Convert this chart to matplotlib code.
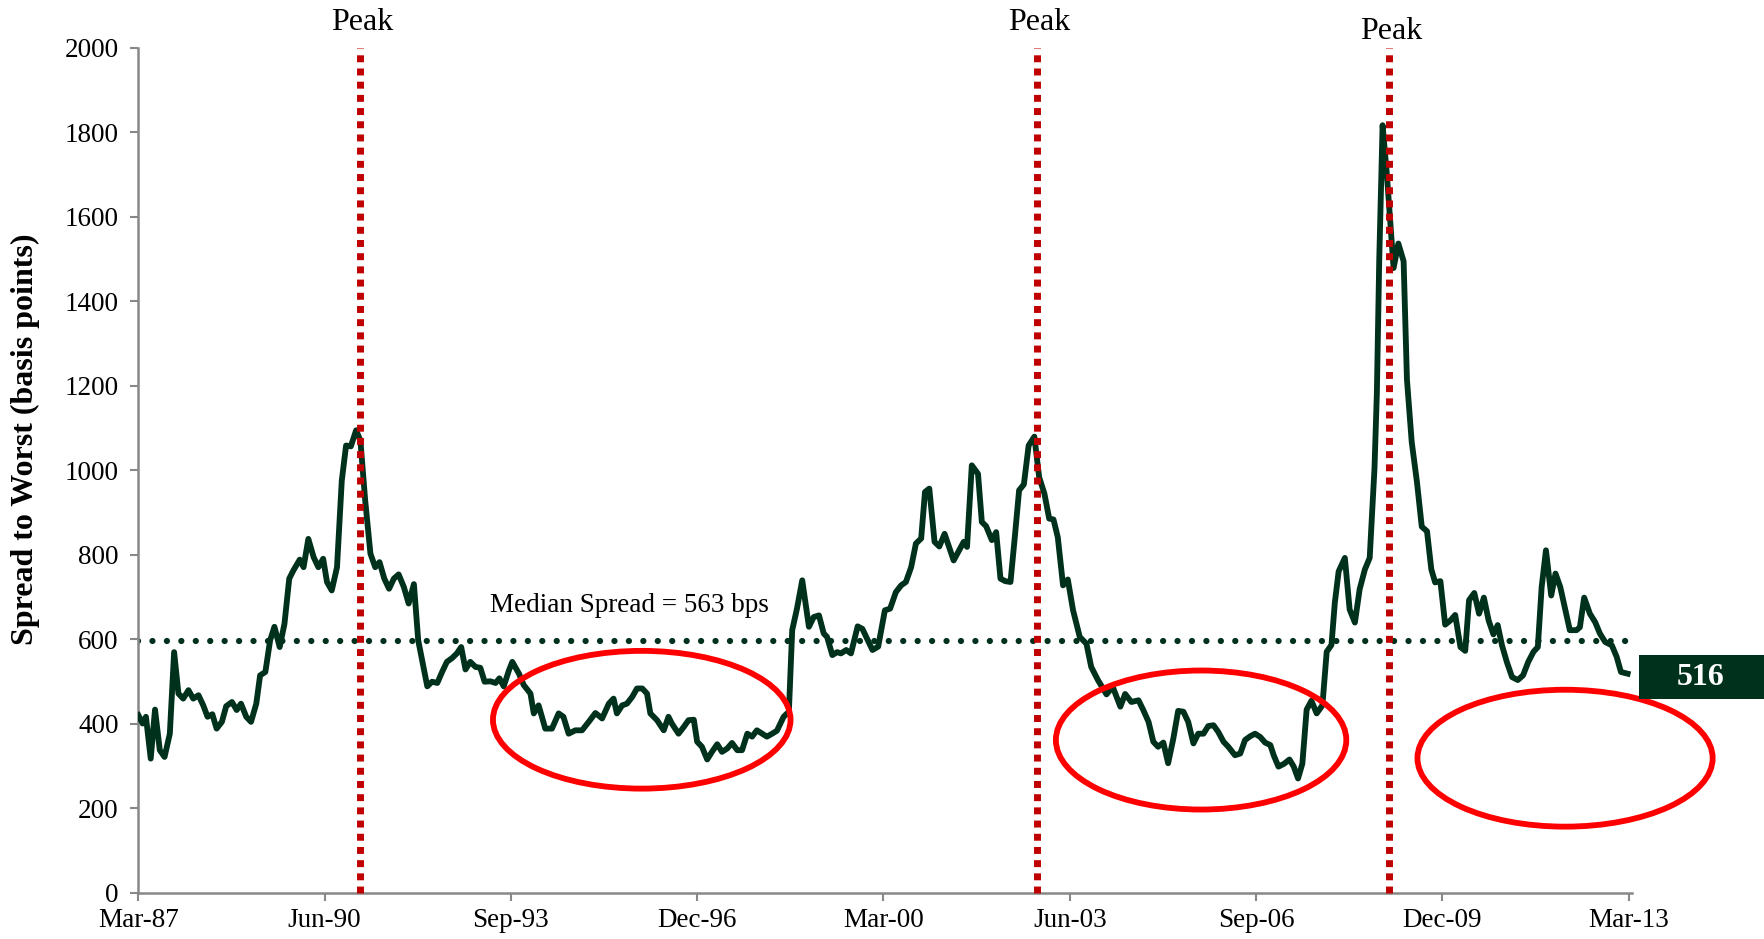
import matplotlib
matplotlib.use("Agg")
from matplotlib import pyplot as plt
from matplotlib.patches import Ellipse, Rectangle

# months since Mar-87 and spread to worst (bps)
months = [0, 0.9, 1.6, 2.6, 3.5, 4.5, 5.5, 6.6, 7.5, 8.4, 9.4, 10.5, 11.5, 12.6, 13.6, 14.5,
          15.5, 16.4, 17.5, 18.4, 19.6, 20.6, 21.5, 22.6, 23.6, 24.7, 25.5, 26.6, 27.6, 28.5,
          29.6, 30.6, 31.6, 32.5, 33.8, 34.6, 35.6, 36.7, 37.7, 38.7, 39.5, 40.5, 41.6, 42.6,
          43.5, 44.5, 45.6, 46.5, 47.5, 48.6, 49.6, 50.5, 51.5, 52.5, 53.5, 54.5, 55.6, 56.6,
          57.7, 58.6, 60.5, 61.5, 62.6, 63.6, 64.6, 65.7, 66.7, 67.6, 68.5, 69.5, 70.6, 71.6,
          72.5, 73.7, 74.8, 75.6, 76.5, 77.6, 78.3, 79.7, 80.7, 82.1, 82.8, 83.8, 84.5, 85.2,
          86.6, 88.0, 89.0, 90.1, 91.5, 92.9, 94.3, 95.7, 97.1, 98.5, 99.5, 100.2, 101.3, 102.3,
          103.4, 104.4, 105.5, 106.5, 107.2, 108.6, 110.0, 111.0, 111.7, 113.1, 114.2, 115.2,
          116.3, 117.0, 118.0, 119.1, 120.1, 121.2, 122.2, 123.3, 124.3, 125.4, 126.4, 127.5,
          128.5, 129.5, 130.6, 131.6, 132.7, 133.7, 135.1, 136.2, 136.9, 137.9, 139.0, 140.4,
          141.4, 142.5, 143.5, 144.2, 145.3, 146.3, 147.1, 148.2, 149.2, 150.6, 151.6, 153.7,
          154.9, 156.3, 157.4, 158.6, 159.7, 160.7, 161.8, 162.8, 163.9, 164.7, 165.6, 166.7,
          167.7, 168.8, 170.7, 172.8, 173.5, 174.5, 175.8, 176.6, 177.5, 178.7, 179.6, 180.5,
          181.5, 182.6, 183.5, 184.4, 185.4, 186.4, 187.6, 188.6, 189.7, 190.7, 191.6, 192.5,
          193.6, 194.6, 195.7, 197.1, 198.5, 199.5, 200.9, 202.7, 204.0, 205.6, 206.6, 207.9,
          209.4, 210.4, 211.5, 212.5, 213.5, 214.6, 215.6, 216.7, 217.7, 218.8, 219.8, 220.9,
          221.9, 223.0, 224.0, 225.1, 226.1, 227.2, 228.2, 229.6, 230.7, 231.7, 232.8, 233.8,
          234.9, 235.9, 237.0, 237.7, 238.7, 239.9, 241.0, 241.9, 242.8, 243.7, 244.6, 245.6,
          246.7, 247.9, 248.8, 249.8, 250.5, 251.3, 252.6, 253.6, 254.7, 255.7, 256.8, 257.8,
          258.8, 259.3, 259.8, 260.5, 261.4, 262.3, 262.8, 263.8, 264.9, 265.6, 266.6, 267.7,
          268.7, 269.8, 270.7, 271.5, 272.6, 273.6, 274.7, 275.7, 276.8, 277.8, 278.6, 279.7,
          280.7, 281.7, 282.7, 283.7, 284.6, 285.5, 286.5, 287.6, 288.8, 289.9, 291.0, 292.1,
          293.0, 293.8, 294.7, 295.8, 296.7, 297.7, 298.7, 299.7, 301.1, 301.8, 302.7, 303.9,
          305.0, 306.0, 307.1, 308.5, 309.5, 310.4, 311.8]
spread = [421, 401, 417, 318, 434, 338, 322, 377, 570, 472, 460, 480, 460, 468, 444, 417,
          423, 389, 405, 442, 452, 433, 448, 417, 405, 448, 515, 523, 598, 630,
          582, 637, 744, 764, 789, 771, 838, 795, 771, 791, 736, 716, 771, 976,
          1059, 1057, 1095, 1071, 929, 803, 771, 783, 744, 720, 744, 754, 724, 685,
          731, 598, 489, 500, 497, 523, 547, 556, 567, 582, 529, 547, 535, 533,
          500, 501, 497, 508, 489, 527, 547, 519, 492, 472, 425, 444, 417, 389,
          389, 425, 417, 377, 385, 385, 405, 426, 413, 448, 460, 425, 444, 448,
          464, 484, 484, 472, 425, 409, 385, 417, 401, 377, 393, 409,
          410, 358, 346, 316, 334, 352, 334, 342, 355, 338, 338, 377,
          370, 385, 377, 370, 377, 384, 417, 429, 622, 673, 740, 630,
          653, 657, 614, 606, 563, 570, 567, 575, 567, 631, 625, 575,
          583, 669, 673, 712, 728, 736, 771, 827, 839, 949, 957, 831,
          820, 850, 787, 831, 819, 1012, 992, 878, 868, 835, 854, 744,
          738, 736, 842, 953, 967, 1059, 1080, 984, 945, 886, 884, 842,
          728, 742, 669, 606, 590, 535, 504, 470, 488, 441, 471, 452,
          456, 433, 405, 358, 346, 356, 307, 366, 431, 429, 405, 354,
          377, 377, 395, 397, 381, 358, 346, 326, 330, 362, 371, 377,
          369, 356, 350, 326, 299, 306, 316, 299, 271, 306, 434, 455,
          425, 444, 571, 587, 687, 761, 793, 671, 640, 719, 766, 793,
          1004, 1183, 1500, 1817, 1700, 1560, 1479, 1537, 1495, 1215, 1067, 972,
          867, 856, 766, 735, 738, 635, 645, 658, 582, 573, 693, 710,
          661, 699, 645, 612, 634, 586, 547, 511, 504, 515, 547, 571,
          582, 724, 811, 704, 756, 724, 673, 622, 622, 629, 699, 661,
          641, 614, 594, 586, 559, 523, 519]

tick_months = [0, 39, 78, 117, 156, 195, 234, 273, 312]
tick_labels = ["Mar-87", "Jun-90", "Sep-93", "Dec-96", "Mar-00", "Jun-03", "Sep-06", "Dec-09", "Mar-13"]
peak_months = [46.5, 188.2, 261.8]
median_level = 596
last_value = 516

# low-spread periods circled in red: (centre month, centre bps, width months, height bps)
circles = [(105.4, 410, 62.3, 326), (222.5, 362, 60.8, 329), (298.7, 319, 61.8, 324)]

green = "#00311c"
plt.rcParams["font.family"] = ["Liberation Serif", "DejaVu Serif"]

fig = plt.figure(figsize=(17.64, 9.39), dpi=100)
ax = fig.add_axes([0.0784, 0.049, 0.847, 0.9])

ax.plot(months, spread, color=green, lw=4.2, solid_joinstyle="round", zorder=3)
ax.plot([0, 312], [median_level, median_level], color=green, lw=4.5,
        linestyle=(0, (0.01, 2.3)), dash_capstyle="round", zorder=2)
ax.text(102.9, 681, "Median Spread = 563 bps", ha="center", va="center", fontsize=19.5)

for i, pm in enumerate(peak_months):
    ax.plot([pm, pm], [0, 2000], color="#c00000", lw=5, linestyle=(0, (1, 0.9)),
            dash_capstyle="butt", zorder=4, clip_on=False)
    ax.text(pm + 0.4, 2025 if i < 2 else 2005, "Peak", ha="center", va="bottom", fontsize=23)

for cx, cy, w, h in circles:
    ax.add_patch(Ellipse((cx, cy), w, h, fill=False, edgecolor="#ff0000", lw=4.2,
                         zorder=5, clip_on=False))

ax.set_xlim(0, 312.8)
ax.set_ylim(0, 2000)
ax.set_yticks(range(0, 2001, 200))
ax.set_xticks(tick_months)
ax.set_xticklabels(tick_labels)
ax.tick_params(axis="both", labelsize=19.5, color="#888888", length=6, width=1.5, direction="out")
ax.tick_params(axis="x", pad=5)
ax.tick_params(axis="y", pad=8)
for side in ["top", "right"]:
    ax.spines[side].set_visible(False)
for side in ["left", "bottom"]:
    ax.spines[side].set_color("#888888")
    ax.spines[side].set_linewidth(1.8)

fig.text(0.0142, 0.532, "Spread to Worst (basis points)", rotation=90, ha="center", va="center",
         fontsize=23, fontweight="bold")

# last value tag at the right edge
fig.patches.append(Rectangle((0.929, 0.256), 0.071, 0.046, transform=fig.transFigure,
                             facecolor=green, edgecolor="none"))
fig.text(0.964, 0.279, str(last_value), color="white", fontsize=23, fontweight="bold",
         ha="center", va="center")

fig.savefig("out.png", dpi=100, facecolor="white")
